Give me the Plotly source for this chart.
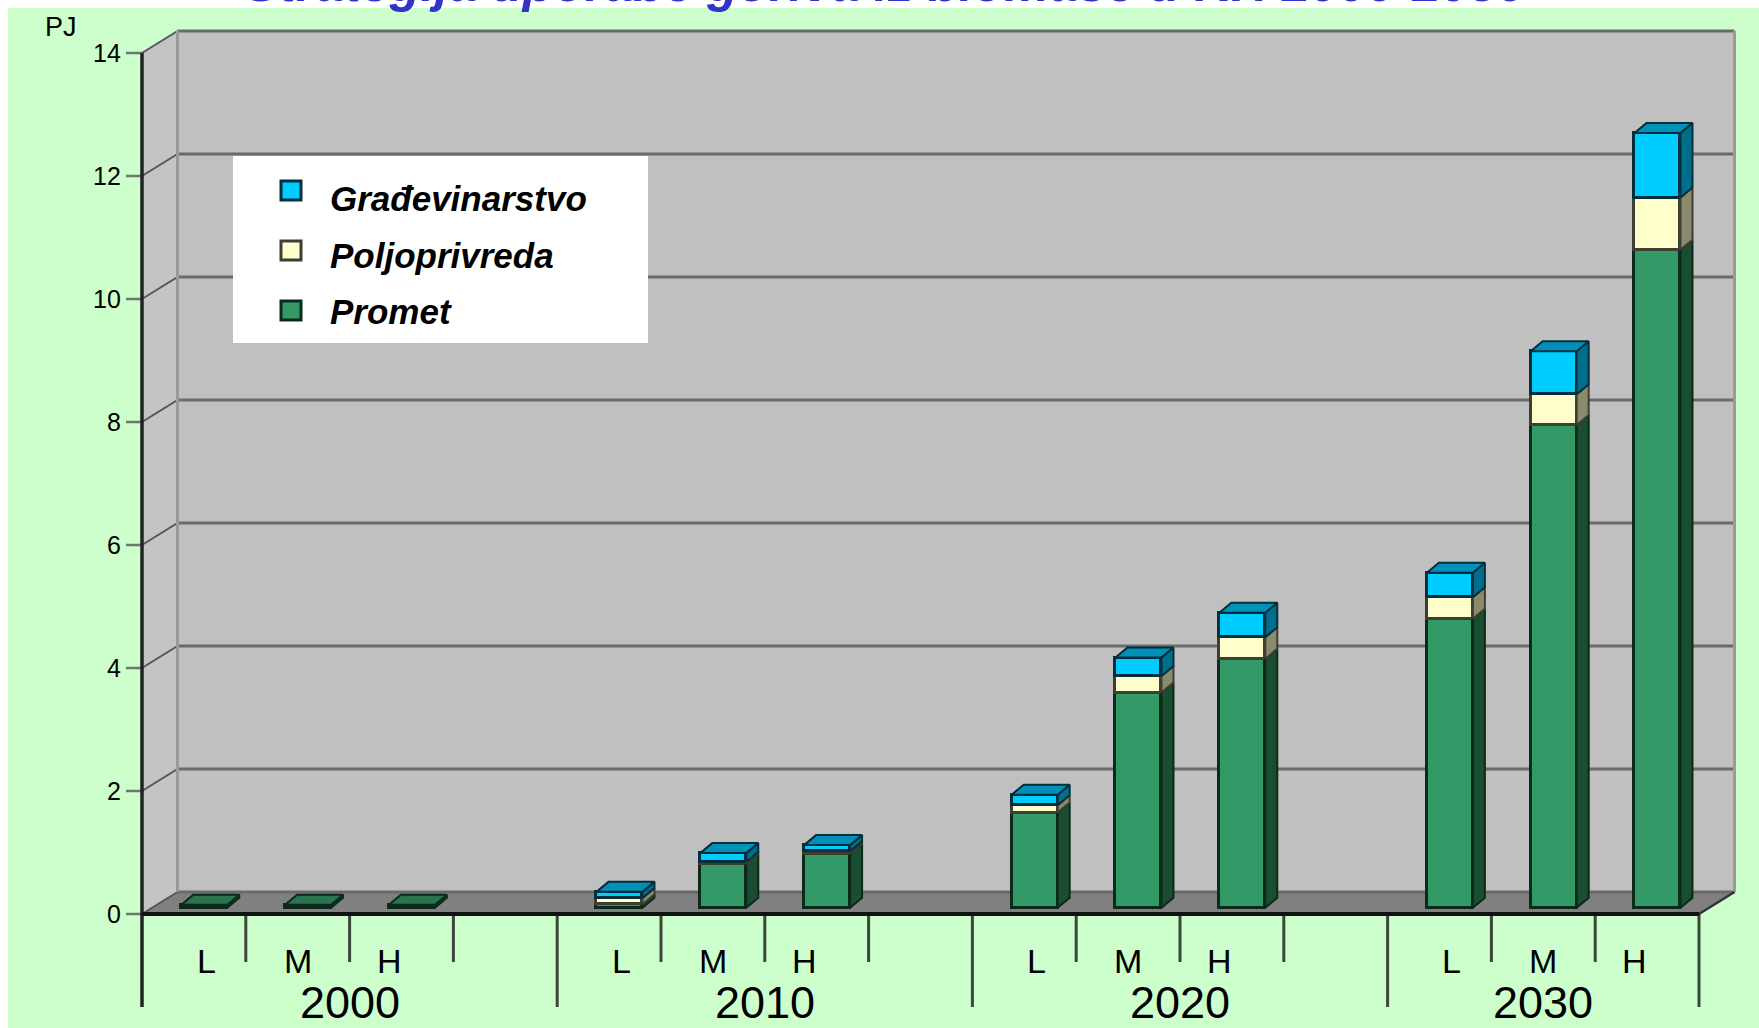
import plotly.graph_objects as go

# ---- data -------------------------------------------------------------
years = ["2000", "2010", "2020", "2030"]
scenarios = ["L", "M", "H"]
y_ticks = [0, 2, 4, 6, 8, 10, 12, 14]

# PJ per year/scenario (L, M, H for each year)
promet = [0.05, 0.05, 0.05, 0.06, 0.72, 0.88, 1.55, 3.50, 4.05, 4.70, 7.85, 10.70]
poljoprivreda = [0.0, 0.0, 0.0, 0.10, 0.03, 0.04, 0.12, 0.27, 0.35, 0.35, 0.50, 0.85]
gradjevinarstvo = [0.0, 0.0, 0.0, 0.10, 0.14, 0.10, 0.17, 0.30, 0.40, 0.40, 0.70, 1.05]

series = [
    # name, values, front, side, top, edge
    ("Promet", promet, "#339966", "#1B4D33", "#2A7550", "#0B2A1B"),
    ("Poljoprivreda", poljoprivreda, "#FFFFCC", "#8A8A6C", "#D8D8B0", "#3E3E34"),
    ("Građevinarstvo", gradjevinarstvo, "#00CCFF", "#006F8C", "#0090B8", "#032F3C"),
]

# ---- geometry of the oblique box -------------------------------------
W, H = 1759, 1028
X0_PX, X_UNIT = 142.0, 103.8      # front-left corner / px per category slot
Y0_PX, Y_UNIT = 914.0, 61.5       # front floor line / px per PJ
N_SLOTS = 15
Y_MAX = 14
WALL_DX, WALL_DY = 35.5 / X_UNIT, 22.0 / Y_UNIT     # depth of the box
BAR_SHIFT = (0.10, 0.10)                            # bars sit inside the box
BAR_W = 46.0 / X_UNIT
BAR_DX, BAR_DY = 12.0 / X_UNIT, 10.0 / Y_UNIT       # depth of a column

x_range = [-X0_PX / X_UNIT, (W - X0_PX) / X_UNIT]
y_range = [-(H - Y0_PX) / Y_UNIT, Y0_PX / Y_UNIT]
x2_range = [v - BAR_SHIFT[0] for v in x_range]
y2_range = [v - BAR_SHIFT[1] for v in y_range]

FONT = "Liberation Sans, Arial, sans-serif"


def px(x):
    return x / W


def py(y):
    return 1 - y / H


# slot centres of the columns: 4 slots per year, last slot of a year empty
bar_x = [4 * g + s + 0.5 for g in range(len(years)) for s in range(len(scenarios))]

fig = go.Figure()

# ---- front faces ------------------------------------------------------
for name, vals, front, side, top, edge in series:
    fig.add_trace(go.Bar(
        x=bar_x, y=vals, name=name, width=BAR_W,
        marker=dict(color=front, line=dict(color=edge, width=3)),
        xaxis="x2", yaxis="y2", showlegend=False, hoverinfo="skip",
    ))

# ---- side and top faces ----------------------------------------------
side_paths = {name: ([], []) for name, *_ in series}
top_paths = {name: ([], []) for name, *_ in series}
for i, xc in enumerate(bar_x):
    base = 0.0
    top_name, top_val = None, 0.0
    xl, xr = xc - BAR_W / 2, xc + BAR_W / 2
    for name, vals, *_ in series:
        v = vals[i]
        if v <= 0:
            continue
        t = base + v
        sx, sy = side_paths[name]
        sx += [xr, xr + BAR_DX, xr + BAR_DX, xr, xr, None]
        sy += [base, base + BAR_DY, t + BAR_DY, t, base, None]
        base = t
        top_name, top_val = name, t
    if top_name:
        tx, ty = top_paths[top_name]
        tx += [xl, xl + BAR_DX, xr + BAR_DX, xr, xl, None]
        ty += [top_val, top_val + BAR_DY, top_val + BAR_DY, top_val, top_val, None]

for name, vals, front, side, top, edge in series:
    sx, sy = side_paths[name]
    fig.add_trace(go.Scatter(
        x=sx, y=sy, mode="lines", fill="toself", fillcolor=side,
        line=dict(color=edge, width=2), xaxis="x2", yaxis="y2",
        showlegend=False, hoverinfo="skip",
    ))
for name, vals, front, side, top, edge in series:
    tx, ty = top_paths[name]
    if tx:
        fig.add_trace(go.Scatter(
            x=tx, y=ty, mode="lines", fill="toself", fillcolor=top,
            line=dict(color=edge, width=2), xaxis="x2", yaxis="y2",
            showlegend=False, hoverinfo="skip",
        ))

# ---- box: background, walls, floor, grid -----------------------------
shapes = []
shapes.append(dict(type="rect", xref="paper", yref="paper",
                   x0=px(8), x1=1, y0=0, y1=py(8),
                   fillcolor="#CCFFCC", line=dict(width=0), layer="below"))
shapes.append(dict(type="rect", xref="x", yref="y",
                   x0=WALL_DX, x1=N_SLOTS + WALL_DX, y0=WALL_DY, y1=Y_MAX + WALL_DY,
                   fillcolor="#C0C0C0", line=dict(width=0), layer="below"))
shapes.append(dict(type="path", xref="x", yref="y",
                   path=f"M0,0 L{WALL_DX},{WALL_DY} L{WALL_DX},{Y_MAX + WALL_DY} L0,{Y_MAX} Z",
                   fillcolor="#C4C4C4", line=dict(width=0), layer="below"))
shapes.append(dict(type="path", xref="x", yref="y",
                   path=f"M0,0 L{N_SLOTS},0 L{N_SLOTS + WALL_DX},{WALL_DY} L{WALL_DX},{WALL_DY} Z",
                   fillcolor="#808080", line=dict(width=0), layer="below"))
for t in y_ticks:
    shapes.append(dict(type="line", xref="x", yref="y",
                       x0=WALL_DX, x1=N_SLOTS + WALL_DX, y0=t + WALL_DY, y1=t + WALL_DY,
                       line=dict(color="#6A6A6A", width=3), layer="below"))
    shapes.append(dict(type="line", xref="x", yref="y",
                       x0=0, x1=WALL_DX, y0=t, y1=t + WALL_DY,
                       line=dict(color="#555555", width=2), layer="below"))
    shapes.append(dict(type="line", xref="x", yref="y",
                       x0=-16 / X_UNIT, x1=0, y0=t, y1=t,
                       line=dict(color="#6A7A6A", width=2.5), layer="below"))
# wall edges
shapes.append(dict(type="line", xref="x", yref="y",
                   x0=WALL_DX, x1=WALL_DX, y0=WALL_DY, y1=Y_MAX + WALL_DY,
                   line=dict(color="#9A9A9A", width=3), layer="below"))
shapes.append(dict(type="line", xref="x", yref="y",
                   x0=N_SLOTS + WALL_DX, x1=N_SLOTS + WALL_DX, y0=WALL_DY, y1=Y_MAX + WALL_DY,
                   line=dict(color="#9A9A9A", width=3), layer="below"))
shapes.append(dict(type="line", xref="x", yref="y",
                   x0=N_SLOTS, x1=N_SLOTS + WALL_DX, y0=0, y1=WALL_DY,
                   line=dict(color="#333333", width=2.5), layer="below"))

# category axis ticks
long_y = -(1007 - Y0_PX) / Y_UNIT
short_y = -(962 - Y0_PX) / Y_UNIT
for k in range(1, N_SLOTS + 1):
    long_tick = k % 4 == 0 or k == N_SLOTS
    shapes.append(dict(type="line", xref="x", yref="y", x0=k, x1=k,
                       y0=0, y1=long_y if long_tick else short_y,
                       line=dict(color="#3A463A", width=3), layer="above"))
# front value axis and floor edge
shapes.append(dict(type="line", xref="x", yref="y", x0=0, x1=0, y0=long_y, y1=Y_MAX,
                   line=dict(color="#222222", width=3.5), layer="above"))
shapes.append(dict(type="line", xref="x", yref="y", x0=0, x1=N_SLOTS, y0=0, y1=0,
                   line=dict(color="#111111", width=4), layer="above"))

# ---- legend box -------------------------------------------------------
shapes.append(dict(type="rect", xref="paper", yref="paper",
                   x0=px(233), x1=px(648), y0=py(343), y1=py(156),
                   fillcolor="#FFFFFF", line=dict(width=0), layer="above"))
legend_rows = [("Građevinarstvo", 2, 199, 190), ("Poljoprivreda", 1, 255, 250), ("Promet", 0, 311, 310)]
annotations = []
for label, idx, ty, sy in legend_rows:
    _, _, front, _, _, edge = series[idx]
    shapes.append(dict(type="rect", xref="paper", yref="paper",
                       x0=px(281), x1=px(301), y0=py(sy + 10), y1=py(sy - 9),
                       fillcolor=front, line=dict(color=edge, width=3), layer="above"))
    annotations.append(dict(xref="paper", yref="paper", x=px(328), y=py(ty),
                            xanchor="left", yanchor="middle", showarrow=False,
                            text=f"<b><i>{label}</i></b>",
                            font=dict(family=FONT, size=35, color="#000000")))

# ---- texts ------------------------------------------------------------
for t in y_ticks:
    annotations.append(dict(xref="x", yref="y", x=-19 / X_UNIT, y=t,
                            xanchor="right", yanchor="middle", showarrow=False,
                            text=str(t), font=dict(family=FONT, size=25, color="#000000")))
label_shift = {"L": 0.12, "M": 0.0, "H": -0.12}
for g, yr in enumerate(years):
    for s, sc in enumerate(scenarios):
        annotations.append(dict(xref="x", yref="y", x=4 * g + s + 0.5 + label_shift[sc],
                                y=-(961 - Y0_PX) / Y_UNIT, xanchor="center", yanchor="middle",
                                showarrow=False, text=sc,
                                font=dict(family=FONT, size=34, color="#000000")))
    centre = 4 * g + 2 if g < len(years) - 1 else (4 * g + N_SLOTS) / 2
    annotations.append(dict(xref="x", yref="y", x=centre, y=-(1002 - Y0_PX) / Y_UNIT,
                            xanchor="center", yanchor="middle", showarrow=False, text=yr,
                            font=dict(family=FONT, size=45, color="#000000")))

annotations.append(dict(xref="paper", yref="paper", x=px(61), y=py(27),
                        xanchor="center", yanchor="middle", showarrow=False, text="PJ",
                        font=dict(family=FONT, size=27, color="#000000")))
annotations.append(dict(xref="paper", yref="paper", x=px(885), y=py(14),
                        xanchor="center", yanchor="bottom", showarrow=False,
                        text="<b><i>Strategija uporabe goriva iz biomase u RH 2000-2030</i></b>",
                        font=dict(family=FONT, size=51, color="#3333CC")))

fig.update_layout(
    width=W, height=H,
    margin=dict(l=0, r=0, t=0, b=0),
    paper_bgcolor="#FFFFFF", plot_bgcolor="rgba(0,0,0,0)",
    barmode="stack", bargap=0,
    showlegend=False,
    xaxis=dict(range=x_range, visible=False, fixedrange=True),
    yaxis=dict(range=y_range, visible=False, fixedrange=True),
    xaxis2=dict(range=x2_range, visible=False, overlaying="x", fixedrange=True),
    yaxis2=dict(range=y2_range, visible=False, overlaying="y", fixedrange=True),
    shapes=shapes,
    annotations=annotations,
)

fig.write_html("out.html")
